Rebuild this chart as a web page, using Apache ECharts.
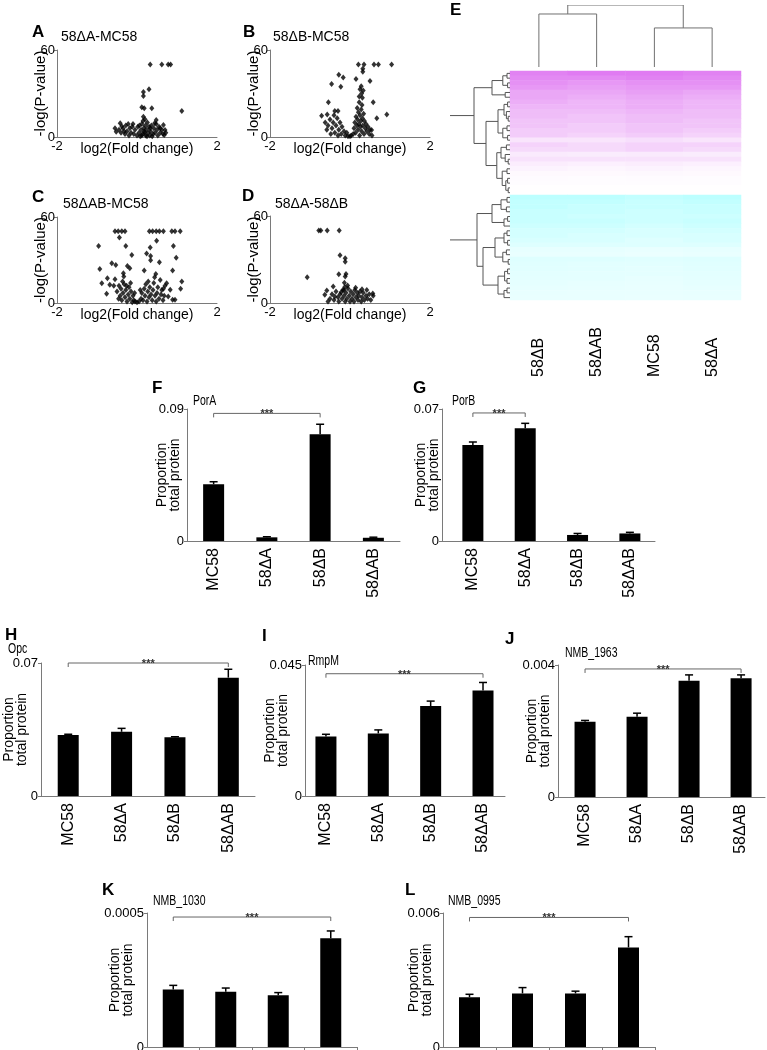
<!DOCTYPE html>
<html><head><meta charset="utf-8">
<script src="https://cdn.jsdelivr.net/npm/echarts@6/dist/echarts.min.js"></script>
<style>html,body{margin:0;padding:0;background:#fff}#c{width:767px;height:1050px}</style>
</head><body><div id="c"></div>
<script>
// ---------------- DATA ----------------
const volcanoA = [[0.33,50],[0.62,50],[0.78,50],[0.84,50],[1.12,18],[0.3,33],[0.16,31],[0.16,28.3],[0.12,20.5],[0.18,19.8],[0.37,19.8],[0.16,14],[0.2,12.2],[0.48,11.7],[0.66,8.3],[0.58,6],[0.7,4.8],[0.68,1.4],[-0.55,6],[-0.52,3.7],[-0.42,9.4],
[-0.45,5],[-0.4,3],[-0.35,6],[-0.3,2],[-0.28,8],[-0.25,4],[-0.2,1],[-0.18,6],[-0.15,3],[-0.1,9],[-0.08,2],[-0.05,5],[0,1],[0.02,7],[0.05,3],[0.08,0.5],[0.1,5],[0.12,9],[0.14,2],[0.15,11],[0.17,6],[0.19,3],[0.21,8],[0.22,1],[0.24,5],[0.26,10],[0.28,3],[0.3,7],[0.32,1],[0.34,4],[0.36,8],[0.4,2],[0.42,6],[0.45,3],[0.48,9],[0.5,5],[0.52,1],[0.55,7],[0.58,3],[0.62,5],[0.65,2],[0.72,3],[-0.38,7.5],[-0.32,4],[-0.22,9],[-0.12,7],[0.06,8],[0.12,1],[0.18,4],[0.25,0.5],[0.33,6],[0.38,0.5],[0.44,9.5]];
const volcanoB = [[0.21,50],[0.35,50],[0.6,50],[0.71,50],[1.04,50],[0.32,47],[0.32,45],[-0.28,43],[-0.17,41],[0.15,40],[0.5,38.6],[-0.46,36.5],[-0.23,34.7],[0.28,35],[0.25,33],[0.33,32],[0.29,30],[0.23,28],[0.31,27],
[-0.54,24],[0.58,24],[0.92,15.6],[-0.71,14.7],[-0.57,15.6],[-0.38,18],[-0.3,18],[0.67,13],[0.54,4.8],
[-0.62,10],[-0.55,8],[-0.5,12],[-0.45,6],[-0.42,10],[-0.38,3],[-0.35,8],[-0.32,13],[-0.28,5],[-0.25,10],[-0.22,2],[-0.2,7],[-0.15,4],[-0.12,1],[-0.08,3],[-0.05,0.5],[-0.48,2],[-0.58,5],[-0.4,15],[-0.3,1],
[0.08,2],[0.1,6],[0.12,10],[0.14,3],[0.15,14],[0.17,8],[0.18,20],[0.19,12],[0.2,5],[0.21,17],[0.22,9],[0.23,24],[0.24,1],[0.25,15],[0.26,7],[0.27,11],[0.28,19],[0.29,4],[0.3,22],[0.31,13],[0.32,8],[0.34,16],[0.35,2],[0.36,11],[0.38,6],[0.4,9],[0.42,4],[0.45,7],[0.48,2],[0.5,5],[0.55,1],[0.03,1],[0.0,0.5]];
const volcanoC = [[-0.55,50],[-0.47,50],[-0.38,50],[-0.3,50],[0.31,50],[0.39,50],[0.48,50],[0.56,50],[0.66,50],[0.87,50],[0.95,50],[1.08,50],
[-0.44,45.7],[0.49,43.4],[-0.96,39.7],[-0.28,39.7],[0.33,38.8],[0.91,39.7],[0.24,34.6],[0.34,32.8],[-0.13,33.5],[0.98,31.6],[-0.93,23.8],[-0.63,27.7],[-0.53,26.5],[-0.24,25.8],[-0.18,24.2],[0.34,29.8],[0.56,28.4],[0.18,22.6],[0.47,20.3],[0.89,22.6],[1.12,15],[1.09,9.9],[-0.88,13.8],[-0.74,17.3],[-0.68,12.7],[-0.76,6.5],[-0.55,16.6],[-0.58,12],[-0.34,20.8],[-0.33,18.5],[0.74,13.8],[0.83,9.2],[0.78,4.6],[0.89,2.3],[0.95,2.3],
[-0.5,8],[-0.45,12],[-0.42,5],[-0.4,10],[-0.38,2],[-0.35,7],[-0.32,13],[-0.3,4],[-0.28,9],[-0.25,1],[-0.22,6],[-0.2,11],[-0.18,3],[-0.15,8],[-0.12,0.5],[-0.1,5],[-0.08,2],[-0.05,1],[0,0.5],[0.05,1],[0.1,3],[0.12,7],[0.15,2],[0.18,10],[0.2,5],[0.22,13],[0.25,1],[0.27,8],[0.3,4],[0.32,11],[0.35,6],[0.38,2],[0.4,9],[0.42,14],[0.45,5],[0.48,1],[0.5,7],[0.52,11],[0.55,3],[0.6,6],[0.62,9],[0.65,2],[0.68,5],[0.7,12],[-0.46,3],[-0.36,15],[-0.26,12],[-0.16,14],[-0.06,7],[0.08,9],[0.28,15],[0.44,18],[0.58,16],[0.66,10]];
const volcanoD = [[-0.78,50],[-0.73,50],[-0.57,50],[-0.27,50],[-0.25,33],[-0.12,30.8],[-0.12,28.5],[-0.28,19.8],[-0.1,20],[-0.12,18.3],[-1.07,17.8],[-0.42,11.4],[-0.58,8.7],[-0.63,5.7],[-0.14,14],[-0.13,11],[-0.15,9],[0.58,5],[0.57,6.5],[0.42,9],
[-0.5,3],[-0.45,6],[-0.4,2],[-0.35,8],[-0.3,4],[-0.28,1],[-0.25,6],[-0.2,3],[-0.18,9],[-0.15,5],[-0.12,1],[-0.1,7],[-0.08,3],[-0.05,10],[-0.02,5],[0,1],[0.02,8],[0.05,3],[0.08,6],[0.1,1],[0.12,9],[0.15,4],[0.18,7],[0.2,2],[0.22,5],[0.25,8],[0.28,1],[0.3,4],[0.33,7],[0.36,2],[0.4,5],[0.44,3],[0.48,6],[0.52,2],[-0.55,1],[-0.38,4.5],[-0.22,7.5],[-0.06,12],[0.14,10.5],[0.3,9.5]];
const volcanoTitles = ['58\u0394A-MC58','58\u0394B-MC58','58\u0394AB-MC58','58\u0394A-58\u0394B'];
const volcanoXTicks = [-2, 2];
const volcanoYTicks = [0, 60];

const heatColumns = ['58\u0394B','58\u0394AB','MC58','58\u0394A'];
const heatValues = [
[0.85,0.9,0.9,0.85],[0.8,0.8,0.85,0.8],[0.75,0.7,0.75,0.75],[0.7,0.65,0.7,0.7],[0.6,0.6,0.65,0.6],[0.6,0.55,0.6,0.55],
[0.55,0.5,0.55,0.5],[0.5,0.5,0.55,0.5],[0.45,0.45,0.5,0.45],[0.45,0.4,0.45,0.45],[0.4,0.4,0.45,0.4],[0.4,0.35,0.4,0.4],
[0.35,0.35,0.4,0.35],[0.35,0.3,0.35,0.3],[0.18,0.18,0.22,0.18],[0.3,0.25,0.3,0.3],[0.25,0.25,0.3,0.25],[0.14,0.13,0.14,0.13],
[0.2,0.2,0.2,0.2],[0.12,0.1,0.12,0.1],[0.08,0.06,0.08,0.06],[0.04,0.04,0.05,0.04],[0.03,0.02,0.03,0.02],[0.02,0.02,0.02,0.02],
[0.01,0.01,0.01,0.01],[0,0,0,0],
[-0.6,-0.6,-0.55,-0.6],[-0.55,-0.55,-0.5,-0.55],[-0.55,-0.5,-0.5,-0.5],[-0.5,-0.5,-0.45,-0.5],[-0.5,-0.45,-0.45,-0.45],[-0.5,-0.5,-0.45,-0.5],
[-0.45,-0.45,-0.4,-0.45],[-0.4,-0.4,-0.35,-0.4],[-0.4,-0.35,-0.35,-0.35],[-0.35,-0.35,-0.3,-0.35],[-0.3,-0.3,-0.3,-0.3],[-0.22,-0.22,-0.2,-0.22],
[-0.2,-0.2,-0.18,-0.2],[-0.3,-0.3,-0.28,-0.3],[-0.28,-0.26,-0.26,-0.28],[-0.27,-0.26,-0.24,-0.27],[-0.25,-0.24,-0.24,-0.25],[-0.24,-0.24,-0.22,-0.24],
[-0.23,-0.22,-0.21,-0.23],[-0.22,-0.21,-0.2,-0.22],[-0.21,-0.2,-0.2,-0.21],[-0.2,-0.2,-0.19,-0.2]];
// dendrograms: [height, left, right]; leaves are display positions
const colDendro = [1.0, [0.855, 0, 1], [0.63, 2, 3]];
const rowDendro = [1.2,
  [0.6,
    [0.3, [0.12, [0.05,0,1], [0.04,2,3]], [0.08,4,5]],
    [0.4,
      [0.2, [0.1, [0.04,6,7], [0.06,8,[0.03,9,10]]], [0.12, [0.05,11,12], [0.04,13,14]]],
      [0.22, [0.15, [0.06,15,16], [0.08,17,[0.03,18,19]]], [0.13, [0.05,20,21], [0.07, [0.04,22,23], [0.03,24,25]]]]]],
  [0.55,
    [0.3, [0.15, [0.05,26,27], [0.06,28,29]], [0.1, [0.04,30,31], 32]],
    [0.45,
      [0.25, [0.1, [0.05,33,34], [0.04,35,36]], [0.12, [0.06,37,38], [0.03,39,40]]],
      [0.2, [0.09, [0.04,41,42], [0.05,43,44]], [0.1, [0.05,45,46], 47]]]]];

const strains = ['MC58','58\u0394A','58\u0394B','58\u0394AB'];
const porA = [0.0387,0.0025,0.0727,0.0022],  porAErr = [0.0017,0.0004,0.0069,0.0004];
const porB = [0.0509,0.0598,0.0032,0.0040],  porBErr = [0.0016,0.0026,0.0008,0.0006];
const opc  = [0.0321,0.0338,0.0309,0.0623],  opcErr  = [0.0004,0.0018,0.0003,0.0044];
const rmpM = [0.0204,0.0215,0.0309,0.0362],  rmpMErr = [0.0008,0.0012,0.0017,0.0028];
const nmb1963 = [0.00228,0.00243,0.00352,0.0036], nmb1963Err = [0.00004,0.00011,0.00018,0.0001];
const nmb1030 = [0.000215,0.000206,0.000193,0.000406], nmb1030Err = [0.000015,0.000014,0.00001,0.000027];
const nmb0995 = [0.00223,0.0024,0.0024,0.00446], nmb0995Err = [0.00013,0.00026,0.0001,0.00048];
const proteinNames = ['PorA','PorB','Opc','RmpM','NMB_1963','NMB_1030','NMB_0995'];
const yAxisMax = [0.09,0.07,0.07,0.045,0.004,0.0005,0.006];
const sigBrackets = [[0,2,0.087],[0,1,0.0679],[0,3,0.07],[0,3,0.042],[0,3,0.00388],[0,3,0.000485],[0,3,0.0058]];

// ---------------- BUILD ----------------
const FONT = '"Liberation Sans", Arial, Helvetica, sans-serif';
const AX = '#7a7a7a';
const grids=[], xAxes=[], yAxes=[], series=[], graphics=[];
function addText(text, left, top, size, bold, sx) {
  graphics.push({type:'text', left, top, scaleX: sx||1, style:{text, font:(bold?'bold ':'')+size+'px '+FONT, fill:'#000'}});
}
function volcano(data, L, T, H, title, letter, lpos, tpos) {
  const gi = grids.length;
  grids.push({left:L, top:T, width:160, height:H, outerBoundsMode:'none'});
  xAxes.push({gridIndex:gi, type:'value', min:volcanoXTicks[0], max:volcanoXTicks[1], interval:volcanoXTicks[1]-volcanoXTicks[0],
    name:'log2(Fold change)', nameLocation:'middle', nameGap:5, nameMoveOverlap:false,
    nameTextStyle:{fontSize:14, color:'#000', verticalAlign:'top', fontFamily:FONT},
    axisLine:{onZero:false, lineStyle:{color:AX}}, axisTick:{show:false},
    axisLabel:{fontSize:13, color:'#000', margin:3, fontFamily:FONT}, splitLine:{show:false}});
  yAxes.push({gridIndex:gi, type:'value', min:volcanoYTicks[0], max:volcanoYTicks[1], interval:volcanoYTicks[1],
    name:'-log(P-value)', nameLocation:'middle', nameGap:9, nameRotate:90, nameMoveOverlap:false,
    nameTextStyle:{fontSize:15, color:'#000', fontFamily:FONT},
    axisLine:{show:true, onZero:false, lineStyle:{color:AX}}, axisTick:{show:true, length:3, lineStyle:{color:AX}},
    axisLabel:{fontSize:13, color:'#000', margin:2, fontFamily:FONT}, splitLine:{show:false}});
  series.push({type:'scatter', xAxisIndex:gi, yAxisIndex:gi, data, symbol:'diamond', symbolSize:[5,6], itemStyle:{color:'#000'}, silent:true});
  addText(letter, lpos[0], lpos[1], 17, true);
  addText(title, tpos[0], tpos[1], 14, false);
}
volcano(volcanoA, 57, 50, 87, volcanoTitles[0], 'A', [32,24], [61,30]);
volcano(volcanoB, 270, 50, 87, volcanoTitles[1], 'B', [243,24], [273,30]);
volcano(volcanoC, 57, 217, 86, volcanoTitles[2], 'C', [32,189], [63,197]);
volcano(volcanoD, 270, 216, 87, volcanoTitles[3], 'D', [242,188], [275,197]);

// dendrogram segments
function treeSegs(node, out, swap) {
  if (typeof node === 'number') return {p:node, h:0};
  const a = treeSegs(node[1], out, swap), b = treeSegs(node[2], out, swap), h = node[0];
  const pts = [[a.p,a.h],[a.p,h],[b.p,h],[b.p,b.h]];
  out.push(swap ? pts.map(q=>[q[1],q[0]]) : pts);
  return {p:(a.p+b.p)/2, h};
}
function dendroSeries(gi, segs, color, width) {
  return {type:'custom', coordinateSystem:'cartesian2d', xAxisIndex:gi, yAxisIndex:gi, clip:true, silent:true,
    encode:{x:0, y:1},
    data: segs.map(s=>[s[1][0], s[1][1]]),
    renderItem:(params, api)=>{
      const s = segs[params.dataIndex];
      return {type:'polyline', shape:{points:s.map(p=>api.coord(p))}, style:{stroke:color, lineWidth:width, fill:null}};
    }};
}
// heatmap
let gi = grids.length;
grids.push({left:510, top:71, width:231, height:229, outerBoundsMode:'none'});
xAxes.push({gridIndex:gi, type:'category', data:heatColumns, axisLine:{show:false}, axisTick:{show:false},
  axisLabel:{rotate:90, align:'left', verticalAlign:'middle', margin:77, fontSize:16, color:'#000', fontFamily:FONT}});
yAxes.push({gridIndex:gi, type:'category', data:heatValues.map((r,i)=>i), inverse:true, show:false});
const heatData = [];
heatValues.forEach((row, r)=>row.forEach((v,c)=>heatData.push([c, r, v])));
const heatSeriesIndex = series.length;
series.push({type:'heatmap', xAxisIndex:gi, yAxisIndex:gi, data:heatData, silent:true});
// column dendrogram
gi = grids.length;
grids.push({left:510, top:5, width:231, height:62, outerBoundsMode:'none'});
xAxes.push({gridIndex:gi, type:'value', min:-0.5, max:3.5, show:false});
yAxes.push({gridIndex:gi, type:'value', min:0, max:1, show:false});
const colSegs = []; treeSegs(colDendro, colSegs, false);
series.push(dendroSeries(gi, colSegs, '#707070', 1));
// row dendrogram
gi = grids.length;
grids.push({left:450, top:71, width:60, height:229, outerBoundsMode:'none'});
xAxes.push({gridIndex:gi, type:'value', min:0, max:1, inverse:true, show:false});
yAxes.push({gridIndex:gi, type:'value', min:-0.5, max:heatValues.length-0.5, inverse:true, show:false});
const rowSegs = []; treeSegs(rowDendro, rowSegs, true);
series.push(dendroSeries(gi, rowSegs, '#555', 1));
addText('E', 450, 2, 17, true);

// bar panels
function barPanel(c) {
  const gi = grids.length;
  grids.push({left:c.box[0], top:c.box[1], width:c.box[2], height:c.box[3], outerBoundsMode:'none'});
  xAxes.push({gridIndex:gi, type:'value', min:c.xr[0], max:c.xr[1],
    axisLine:{onZero:false, lineStyle:{color:AX}},
    axisTick: c.ticks ? {show:true, length:4, customValues:[0.5,1.5,2.5,3.5], lineStyle:{color:AX}} : {show:false},
    axisLabel:{customValues:[0,1,2,3], formatter:v=>strains[Math.round(v)], rotate:90, fontSize:16, color:'#000', margin:7, fontFamily:FONT},
    splitLine:{show:false}});
  yAxes.push({gridIndex:gi, type:'value', min:0, max:c.max, interval:c.max,
    name:'Proportion\ntotal protein', nameLocation:'middle', nameGap:c.nameGap, nameRotate:90, nameMoveOverlap:false,
    nameTextStyle:{fontSize:14, lineHeight:13, color:'#000', fontFamily:FONT},
    axisLine:{show:true, onZero:false, lineStyle:{color:AX}}, axisTick:{show:true, length:3, lineStyle:{color:AX}},
    axisLabel:{fontSize:13, color:'#000', margin:3, fontFamily:FONT}, splitLine:{show:false}});
  series.push({type:'bar', xAxisIndex:gi, yAxisIndex:gi, data:c.vals.map((v,i)=>[i,v]), barWidth:21, itemStyle:{color:'#000'}, silent:true});
  series.push({type:'custom', xAxisIndex:gi, yAxisIndex:gi, z:3, silent:true, encode:{x:0, y:1},
    data:c.vals.map((v,i)=>[i, v, c.errs[i]]),
    renderItem:(params, api)=>{
      const i=api.value(0), v=api.value(1), e=api.value(2);
      const p0=api.coord([i,v]), p1=api.coord([i,v+e]);
      return {type:'group', children:[
        {type:'line', shape:{x1:p0[0], y1:p0[1], x2:p1[0], y2:p1[1]}, style:{stroke:'#000', lineWidth:1.5}},
        {type:'line', shape:{x1:p1[0]-4, y1:p1[1], x2:p1[0]+4, y2:p1[1]}, style:{stroke:'#000', lineWidth:1.5}}]};
    }});
  series.push({type:'custom', xAxisIndex:gi, yAxisIndex:gi, z:3, silent:true, encode:{x:0, y:2},
    data:[c.sig],
    renderItem:(params, api)=>{
      const a=api.coord([api.value(0), api.value(2)]), b=api.coord([api.value(1), api.value(2)]);
      return {type:'group', children:[
        {type:'polyline', shape:{points:[[a[0],a[1]+4],[a[0],a[1]],[b[0],b[1]],[b[0],b[1]+4]]}, style:{stroke:'#666', lineWidth:1, fill:null}},
        {type:'text', style:{text:'***', x:(a[0]+b[0])/2, y:a[1]+1, align:'center', verticalAlign:'middle', font:'bold 11px '+FONT, fill:'#333'}}]};
    }});
  addText(c.letter, c.lp[0], c.lp[1], 17, true);
  addText(c.title, c.tp[0], c.tp[1], 14, false, 0.75);
}
barPanel({box:[187,409,213,132], xr:[-0.5,3.5], max:yAxisMax[0], vals:porA, errs:porAErr, sig:sigBrackets[0], nameGap:5, letter:'F', lp:[152,380], title:proteinNames[0], tp:[193,394]});
barPanel({box:[442,409,213,132], xr:[-0.59,3.48], max:yAxisMax[1], vals:porB, errs:porBErr, sig:sigBrackets[1], nameGap:1, letter:'G', lp:[413,380], title:proteinNames[1], tp:[452,394]});
barPanel({box:[41,663,214,133], xr:[-0.51,3.5], max:yAxisMax[2], vals:opc, errs:opcErr, sig:sigBrackets[2], nameGap:12, letter:'H', lp:[5,627], title:proteinNames[2], tp:[8,642]});
barPanel({box:[305,665,200,131], xr:[-0.4,3.42], max:yAxisMax[3], vals:rmpM, errs:rmpMErr, sig:sigBrackets[3], nameGap:15, letter:'I', lp:[262,628], title:proteinNames[3], tp:[308,654]});
barPanel({box:[558,665,207,132], xr:[-0.52,3.46], max:yAxisMax[4], vals:nmb1963, errs:nmb1963Err, sig:sigBrackets[4], nameGap:6, letter:'J', lp:[505,631], title:proteinNames[4], tp:[565,646]});
barPanel({box:[147,913,210,134], xr:[-0.5,3.5], max:yAxisMax[5], vals:nmb1030, errs:nmb1030Err, sig:sigBrackets[5], nameGap:12, letter:'K', lp:[102,882], title:proteinNames[5], tp:[153,894], ticks:true});
barPanel({box:[443,913,212,134], xr:[-0.5,3.5], max:yAxisMax[6], vals:nmb0995, errs:nmb0995Err, sig:sigBrackets[6], nameGap:9, letter:'L', lp:[405,882], title:proteinNames[6], tp:[448,894], ticks:true});

const chart = echarts.init(document.getElementById('c'), null, {renderer:'canvas'});
chart.setOption({
  animation:false, backgroundColor:'#fff', textStyle:{fontFamily:FONT},
  grid:grids, xAxis:xAxes, yAxis:yAxes, series,
  visualMap:[{type:'continuous', show:false, seriesIndex:heatSeriesIndex, dimension:2, min:-1, max:1,
    inRange:{color:['#90ffff','#ffffff','#dc6cf0']}}],
  graphic:{elements:graphics}
});
</script></body></html>
